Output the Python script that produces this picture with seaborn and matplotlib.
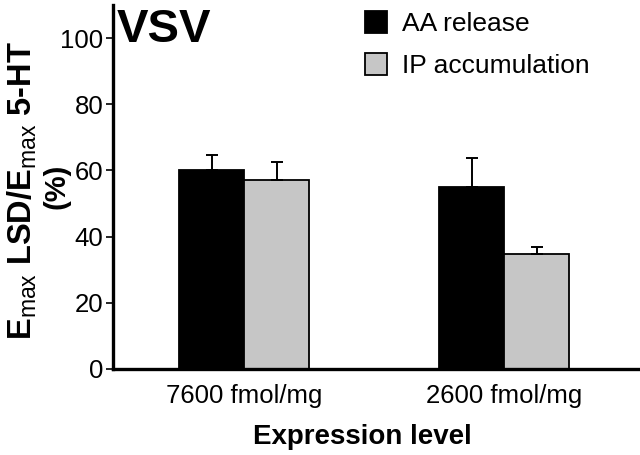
import pandas as pd
import matplotlib
matplotlib.use("Agg")
import matplotlib.pyplot as plt
import seaborn as sns

# values
levels = ["7600 fmol/mg", "2600 fmol/mg"]
series = ["AA release", "IP accumulation"]
aa_release = [60.1, 54.9]
aa_err = [4.7, 8.8]
ip_accum = [57.0, 34.9]
ip_err = [5.5, 1.9]

df = pd.DataFrame({
    "level": levels * 2,
    "series": [series[0]] * 2 + [series[1]] * 2,
    "value": aa_release + ip_accum,
    "err": aa_err + ip_err,
})

sns.set_theme(style="white")
plt.rcParams["font.family"] = ["Liberation Sans", "DejaVu Sans"]
plt.rcParams["text.color"] = "black"
plt.rcParams["mathtext.fontset"] = "custom"
plt.rcParams["mathtext.rm"] = "Liberation Sans"
plt.rcParams["mathtext.bf"] = "Liberation Sans:bold"

fig = plt.figure(figsize=(6.4, 4.55), dpi=100)
ax = fig.add_axes([113 / 640, 1 - 369 / 455, 527 / 640, 364 / 455])

sns.barplot(data=df, x="level", y="value", hue="series", order=levels,
            hue_order=series, palette=["black", "#c6c6c6"], width=0.5,
            errorbar=None, edgecolor="black", linewidth=1.3, saturation=1,
            ax=ax)

# upward-only error bars, placed on the bars seaborn drew
for bar_group, name in zip(ax.containers, series):
    sub = df[df["series"] == name].set_index("level").loc[levels]
    xs = [b.get_x() + b.get_width() / 2 for b in bar_group]
    ax.errorbar(xs, sub["value"], yerr=[[0] * len(xs), sub["err"]],
                fmt="none", ecolor="black", elinewidth=1.4, capsize=4,
                capthick=1.4, zorder=1)

ax.set_ylim(0, 110)
ax.set_xlim(-0.504, 1.523)
ax.set_yticks([0, 20, 40, 60, 80, 100])
ax.set_xlabel("")
ax.set_ylabel("")
for side in ["top", "right"]:
    ax.spines[side].set_visible(False)
for side in ["left", "bottom"]:
    ax.spines[side].set_linewidth(2.4)
    ax.spines[side].set_color("black")
ax.tick_params(axis="y", left=True, direction="out", length=5, width=1.2,
               labelsize=18.5, pad=2, colors="black")
ax.tick_params(axis="x", bottom=False, labelsize=18.5, pad=5, colors="black")

handles, labels = ax.get_legend_handles_labels()
ax.legend(handles, labels, loc="upper left", bbox_to_anchor=(365 / 640, 1 - 11 / 455),
          bbox_transform=fig.transFigure, frameon=False, fontsize=19,
          handlelength=0.85, handleheight=0.9, handletextpad=0.55,
          labelspacing=0.65, borderpad=0, borderaxespad=0)

fig.text(117 / 640, 1 - 42 / 455, "VSV", fontsize=34, fontweight="bold",
         ha="left", va="baseline")
fig.text(22 / 640, 1 - 190 / 455,
         r"$\mathbf{E}_{\mathrm{max}}$ LSD/$\mathbf{E}_{\mathrm{max}}$ 5-HT",
         fontsize=23.5, fontweight="bold", rotation=90, ha="center", va="center")
fig.text(57 / 640, 1 - 186 / 455, "(%)", fontsize=21, fontweight="bold",
         rotation=90, ha="center", va="center")
fig.text(362 / 640, 1 - 437 / 455, "Expression level", fontsize=20,
         fontweight="bold", ha="center", va="center")

fig.savefig("out.png", dpi=100)
